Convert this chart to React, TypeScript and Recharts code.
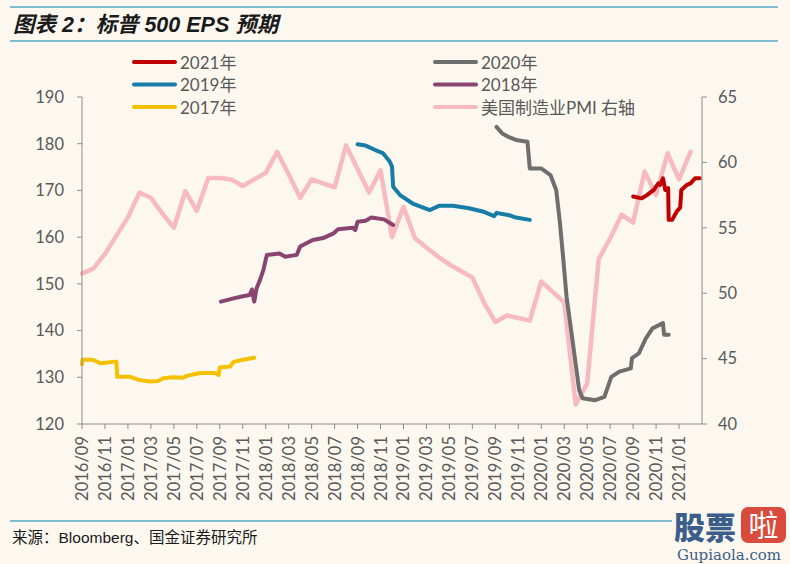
import React from 'react';
import { LineChart, Line, XAxis, YAxis } from 'recharts';

// ---------- data (x = months since 2016/09) ----------
const xTickMonths = [0, 2, 4, 6, 8, 10, 12, 14, 16, 18, 20, 22, 24, 26, 28, 30, 32, 34, 36, 38, 40, 42, 44, 46, 48, 50, 52];
const xTickLabels = [
  '2016/09', '2016/11', '2017/01', '2017/03', '2017/05', '2017/07', '2017/09', '2017/11',
  '2018/01', '2018/03', '2018/05', '2018/07', '2018/09', '2018/11', '2019/01', '2019/03',
  '2019/05', '2019/07', '2019/09', '2019/11', '2020/01', '2020/03', '2020/05', '2020/07',
  '2020/09', '2020/11', '2021/01',
];
const leftTicks = [120, 130, 140, 150, 160, 170, 180, 190];
const rightTicks = [40, 45, 50, 55, 60, 65];

const pmiMonth = [0, 1, 2, 3, 4, 5, 6, 7, 8, 9, 10, 11, 12, 13, 14, 15, 16, 17, 18, 19, 20, 21, 22, 23, 24, 25, 26, 27, 28, 29, 30, 31, 32, 33, 34, 35, 36, 37, 38, 39, 40, 41, 42, 43, 44, 45, 46, 47, 48, 49, 50, 51, 52, 53];
const pmiValue = [51.5, 51.9, 53.0, 54.4, 55.8, 57.7, 57.3, 56.1, 55.0, 57.8, 56.3, 58.8, 58.8, 58.7, 58.2, 58.7, 59.2, 60.8, 59.1, 57.3, 58.7, 58.4, 58.1, 61.3, 59.5, 57.7, 59.4, 54.3, 56.6, 54.2, 53.5, 52.8, 52.2, 51.7, 51.2, 49.3, 47.8, 48.3, 48.1, 47.9, 50.9, 50.1, 49.3, 41.5, 43.1, 52.6, 54.2, 56.0, 55.4, 59.3, 57.5, 60.7, 58.7, 60.8];

const eps2017X = [0, 0.05, 1.0, 1.6, 2.7, 3.0, 3.07, 4.2, 5.0, 5.9, 6.6, 7.1, 7.9, 8.8, 9.1, 10.3, 11.6, 11.9, 12.0, 12.9, 13.2, 13.9, 15.0];
const eps2017Y = [132.8, 133.8, 133.7, 133.0, 133.3, 133.3, 130.1, 130.1, 129.4, 129.1, 129.2, 129.8, 130.0, 129.9, 130.3, 130.9, 130.9, 130.5, 132.1, 132.3, 133.3, 133.7, 134.2];

const eps2018X = [12.1, 13.2, 13.9, 14.6, 14.8, 15.0, 15.2, 15.5, 15.8, 16.1, 17.2, 17.7, 18.7, 19.0, 20.1, 21.0, 21.9, 22.3, 23.6, 23.8, 24.0, 24.7, 25.2, 26.3, 27.1];
const eps2018Y = [146.2, 146.9, 147.3, 147.6, 148.8, 146.2, 149.0, 150.8, 153.0, 156.2, 156.5, 155.8, 156.2, 158.0, 159.4, 159.8, 160.8, 161.7, 162.0, 161.5, 163.3, 163.5, 164.2, 163.8, 162.6];

const eps2019X = [24.0, 24.7, 25.5, 26.2, 26.8, 27.0, 27.1, 27.7, 28.8, 30.3, 31.1, 32.3, 33.7, 34.9, 35.9, 36.1, 37.2, 37.8, 39.0];
const eps2019Y = [179.9, 179.6, 178.7, 178.0, 176.2, 175.1, 170.8, 169.0, 167.2, 165.8, 166.7, 166.7, 166.2, 165.5, 164.5, 165.2, 164.7, 164.2, 163.7];

const eps2020X = [36.1, 36.6, 37.2, 37.8, 38.8, 39.0, 40.0, 40.8, 41.3, 41.6, 41.9, 42.2, 42.8, 43.3, 43.6, 44.7, 45.5, 46.1, 46.8, 47.8, 47.9, 48.5, 49.1, 49.7, 50.6, 50.7, 51.1];
const eps2020Y = [183.6, 182.2, 181.4, 180.8, 180.4, 174.7, 174.7, 173.3, 170.1, 163.7, 155.8, 147.3, 136.5, 127.3, 125.5, 125.1, 125.8, 130.1, 131.2, 131.9, 134.1, 135.1, 138.3, 140.5, 141.6, 139.1, 139.1];

const eps2021X = [48.0, 48.75, 49.2, 49.8, 50.2, 50.35, 50.6, 50.8, 51.05, 51.1, 51.4, 51.8, 52.1, 52.2, 52.7, 53.0, 53.4, 53.8];
const eps2021Y = [168.7, 168.3, 169.0, 170.1, 171.5, 171.2, 172.6, 170.1, 170.5, 163.7, 163.7, 165.5, 166.3, 170.1, 171.2, 171.5, 172.6, 172.6];

// ---------- styling ----------
const W = 790;
const H = 564;
const BG = '#FCF8F0';
const TEXT = '#595959';
const AXIS = '#8C8C8C';
const RULE = '#5AA9CA';
const FONT = "Lato, 'Noto Sans CJK SC', sans-serif";

const C2021 = '#C00000';
const C2020 = '#6E6E6E';
const C2019 = '#177CA6';
const C2018 = '#8A4470';
const C2017 = '#F4C000';
const CPMI = '#F8BAC1';

const zip = (xs: number[], ys: number[]) => xs.map((x, i) => ({ x, v: ys[i] }));

const pmiData = zip(pmiMonth, pmiValue);
const d2017 = zip(eps2017X, eps2017Y);
const d2018 = zip(eps2018X, eps2018Y);
const d2019 = zip(eps2019X, eps2019Y);
const d2020 = zip(eps2020X, eps2020Y);
const d2021 = zip(eps2021X, eps2021Y);

const legendItems = [
  { label: '2021年', color: C2021, col: 0, row: 0 },
  { label: '2020年', color: C2020, col: 1, row: 0 },
  { label: '2019年', color: C2019, col: 0, row: 1 },
  { label: '2018年', color: C2018, col: 1, row: 1 },
  { label: '2017年', color: C2017, col: 0, row: 2 },
  { label: '美国制造业PMI 右轴', color: CPMI, col: 1, row: 2 },
];

const XTick = (props: any) => {
  const { x, y, payload } = props;
  const idx = xTickMonths.indexOf(payload.value);
  const label = idx >= 0 ? xTickLabels[idx] : '';
  return (
    <text
      x={x}
      y={y}
      transform={`rotate(-90 ${x} ${y})`}
      textAnchor="end"
      dominantBaseline="central"
      fill={TEXT}
      fontSize={16.5}
      fontFamily={FONT}
    >
      {label}
    </text>
  );
};

export default function App() {
  const lineCommon = {
    type: 'linear' as const,
    dataKey: 'v',
    dot: false,
    activeDot: false,
    isAnimationActive: false,
    strokeLinejoin: 'round' as const,
    strokeLinecap: 'round' as const,
  };
  return (
    <div style={{ position: 'absolute', left: 0, top: 0, width: W, height: H, background: BG, overflow: 'hidden' }}>
      <div style={{ position: 'absolute', left: 0, top: 0 }}>
        <LineChart width={W} height={H} margin={{ top: 97, right: 28, bottom: 60, left: 22 }}>
          <XAxis
            type="number"
            dataKey="x"
            domain={[0, 54]}
            ticks={xTickMonths}
            interval={0}
            allowDuplicatedCategory={false}
            height={80}
            tickSize={5}
            tickMargin={7}
            stroke={AXIS}
            tickLine={{ stroke: AXIS }}
            tick={<XTick />}
          />
          <YAxis
            yAxisId="eps"
            type="number"
            domain={[120, 190]}
            ticks={leftTicks}
            interval={0}
            width={60}
            tickSize={5}
            tickMargin={13}
            stroke={AXIS}
            tick={{ fill: TEXT, fontSize: 16.5, fontFamily: FONT }}
          />
          <YAxis
            yAxisId="pmi"
            orientation="right"
            type="number"
            domain={[40, 65]}
            ticks={rightTicks}
            interval={0}
            width={60}
            tickSize={5}
            tickMargin={11}
            stroke={AXIS}
            tick={{ fill: TEXT, fontSize: 16.5, fontFamily: FONT }}
          />
          <Line {...lineCommon} yAxisId="pmi" data={pmiData} stroke={CPMI} strokeWidth={4.5} />
          <Line {...lineCommon} yAxisId="eps" data={d2017} stroke={C2017} strokeWidth={4} />
          <Line {...lineCommon} yAxisId="eps" data={d2018} stroke={C2018} strokeWidth={4} />
          <Line {...lineCommon} yAxisId="eps" data={d2019} stroke={C2019} strokeWidth={4} />
          <Line {...lineCommon} yAxisId="eps" data={d2020} stroke={C2020} strokeWidth={4} />
          <Line {...lineCommon} yAxisId="eps" data={d2021} stroke={C2021} strokeWidth={4} />
        </LineChart>
      </div>
      <svg width={W} height={H} style={{ position: 'absolute', left: 0, top: 0, pointerEvents: 'none' }}>
        <line x1={10} y1={7} x2={778} y2={7} stroke={RULE} strokeWidth={1.5} />
        <text
          x={13}
          y={32}
          fontSize={21.5}
          fontWeight={700}
          fontStyle="italic"
          fill="#1a1a1a"
          fontFamily="'Liberation Sans', 'Noto Sans CJK SC', sans-serif"
        >
          图表 2：标普 500 EPS 预期
        </text>
        <line x1={10} y1={41} x2={778} y2={41} stroke={RULE} strokeWidth={1.5} />
        {legendItems.map((it) => {
          const lx = it.col === 0 ? 134 : 435;
          const ly = 62 + it.row * 22.5;
          return (
            <g key={it.label}>
              <line x1={lx} y1={ly} x2={lx + 41} y2={ly} stroke={it.color} strokeWidth={4} strokeLinecap="round" />
              <text x={lx + 46} y={ly} dominantBaseline="central" fontSize={17} fill={TEXT} fontFamily={FONT}>
                {it.label}
              </text>
            </g>
          );
        })}
        <line x1={10} y1={521} x2={672} y2={521} stroke={RULE} strokeWidth={1.5} />
        <text x={12} y={543} fontSize={15.5} fill="#1a1a1a" fontFamily="'Liberation Sans', 'Noto Sans CJK SC', sans-serif">
          来源：Bloomberg、国金证券研究所
        </text>
        <text x={674} y={539} fontSize={31} fontWeight={900} fill="#3C5E8A" fontFamily="'Noto Sans CJK SC', sans-serif">
          股票
        </text>
        <rect x={741} y={507} width={45} height={36} rx={7} fill="#D94B3C" />
        <text x={763.5} y={536} fontSize={30} textAnchor="middle" fill="#FFFFFF" fontFamily="'Noto Sans CJK SC', sans-serif">
          啦
        </text>
        <text x={729} y={560} fontSize={15} textAnchor="middle" fill="#3C5E8A" fontFamily="'DejaVu Serif', serif">
          Gupiaola.com
        </text>
      </svg>
    </div>
  );
}
